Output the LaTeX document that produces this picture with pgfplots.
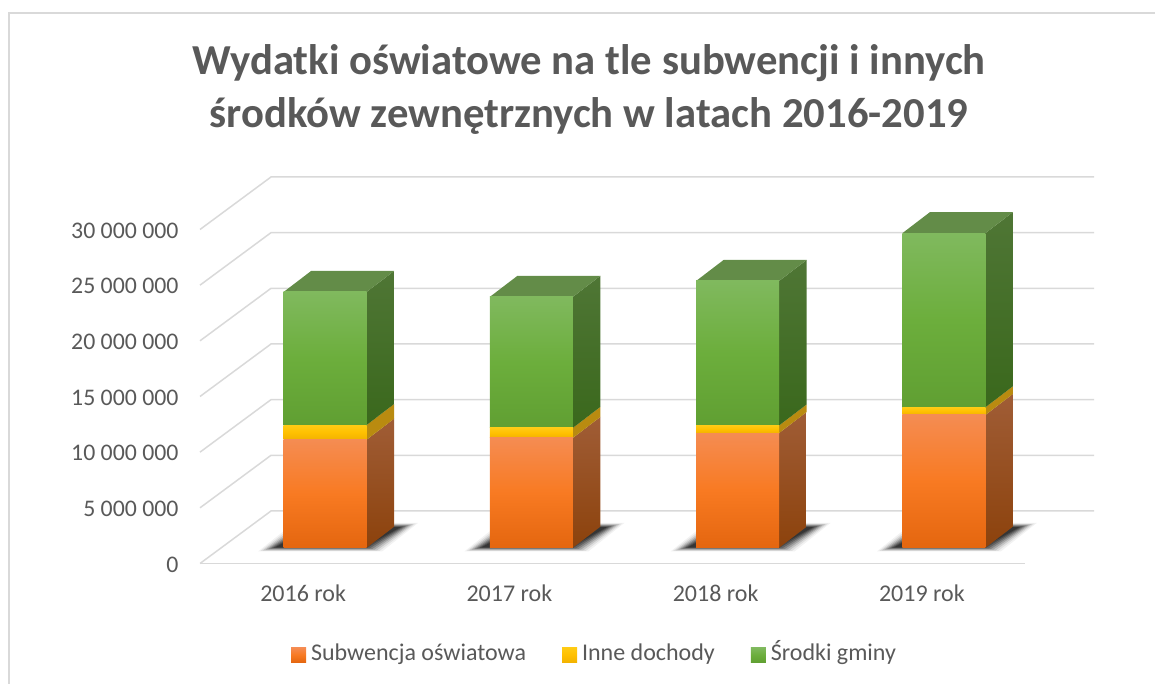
\documentclass[border=0pt]{standalone}
\usepackage{pgfplots}
\pgfplotsset{compat=1.18}
\usepackage{fontspec}
\setmainfont{Carlito}
\definecolor{txt}{HTML}{595959}
\definecolor{gridc}{HTML}{D9D9D9}
\definecolor{oT}{HTML}{F58C52}\definecolor{oM}{HTML}{F87A22}\definecolor{oB}{HTML}{E4660F}
\definecolor{yT}{HTML}{FFCB14}\definecolor{yM}{HTML}{FFC000}\definecolor{yB}{HTML}{F2B200}
\definecolor{gT}{HTML}{80B95E}\definecolor{gM}{HTML}{6CAE3C}\definecolor{gB}{HTML}{609F32}
\definecolor{osT}{HTML}{A05D36}\definecolor{osB}{HTML}{8C420C}
\definecolor{ys}{HTML}{B98B10}
\definecolor{gsT}{HTML}{4F7635}\definecolor{gsB}{HTML}{3A681C}
\definecolor{topg}{HTML}{638C48}
\tikzset{
 oFront/.style={top color=oT,bottom color=oB,middle color=oM},
 yFront/.style={top color=yT,bottom color=yB,middle color=yM},
 gFront/.style={top color=gT,bottom color=gB,middle color=gM},
 oSide/.style={top color=osT,bottom color=osB},
 ySide/.style={fill=ys},
 gSide/.style={top color=gsT,bottom color=gsB},
}
\newcommand{\shadowlayer}[3]{%
 \addplot[draw=none,fill=black,fill opacity=#3,xshift={#1*206.25pt},forget plot]
  table[row sep=\\,header=false,
   x expr={(\thisrowno{0}+\thisrowno{2}*#2*2.5-325.125)/206.25},
   y expr={(547.7-(\thisrowno{1}+\thisrowno{3}*#2*0.6))*89820}]
  {258 551.5 1 -1\\ 382 551.5 -1 -1\\ 418 523 -1 1\\ 294 523 1 1\\} --cycle;}
\pgfplotsset{
 common/.style={scale only axis,width=825pt,height=334pt,xmin=-0.5,xmax=3.5,ymin=0,ymax=30000000,clip=false},
}
% one axis per bar, so that each bar has its own gradient
\newcommand{\barstack}[4]{%
\begin{axis}[common,at={(222pt,136.3pt)},anchor=south west,hide axis,ybar stacked,bar width=83pt]
\addplot[draw=none,oFront] coordinates {(#1,#2)};
\addplot[draw=none,yFront] coordinates {(#1,#3)};
\addplot[draw=none,gFront] coordinates {(#1,#4)};
\end{axis}}
\begin{document}
\begin{tikzpicture}[x=1pt,y=1pt]
\useasboundingbox (0,0) rectangle (1155,684);
\draw[gridc,line width=1.3pt] (9,0) -- (9,671) -- (1155,671);
% ---------- walls, ticks, title, legend
\begin{axis}[common,at={(200pt,120.5pt)},anchor=south west,
 axis x line=bottom,axis y line=left,axis line style={draw=none},tick style={draw=none},
 major tick length=0pt,
 xtick={0,1,2,3},xticklabels={2016 rok,2017 rok,2018 rok,2019 rok},
 ytick={0,5000000,10000000,15000000,20000000,25000000,30000000},
 yticklabels={0,5 000 000,10 000 000,15 000 000,20 000 000,25 000 000,30 000 000},
 scaled y ticks=false,
 xticklabel style={font=\fontsize{24}{28}\selectfont,text=txt,anchor=center,yshift=-30pt},
 yticklabel style={font=\fontsize{23.8}{28}\selectfont,text=txt,anchor=east,xshift=-18pt,yshift=-1pt},
 title={Wydatki oświatowe na tle subwencji i innych\\środków zewnętrznych w latach 2016-2019},
 title style={at={(0.4715,1.4026)},anchor=center,align=center,text=txt,
   font=\fontsize{42.7}{53}\selectfont\bfseries},
 legend style={at={(0.4782,-0.274)},anchor=center,draw=none,fill=none,
   font=\fontsize{24}{28}\selectfont,text=txt,legend columns=3,
   nodes={text height=17pt,text depth=6pt},
   /tikz/every odd column/.append style={column sep=3pt},
   /tikz/every even column/.append style={column sep=34pt}},
 legend cell align=left,
 gl/.style={draw=gridc,line width=1.5pt,forget plot},
 sw/.style={legend image code/.code={\path[draw=none,##1] (0pt,-7.5pt) rectangle (15pt,7.5pt);}},
]
\addplot[gl] coordinates {(-0.5,0) (3.5,0)};
\addplot[gl] coordinates {(-0.5,0) (-0.1558,4715500) (3.8345,4715500)};
\addplot[gl] coordinates {(-0.5,5000000) (-0.1558,9715500) (3.8345,9715500)};
\addplot[gl] coordinates {(-0.5,10000000) (-0.1558,14715500) (3.8345,14715500)};
\addplot[gl] coordinates {(-0.5,15000000) (-0.1558,19715500) (3.8345,19715500)};
\addplot[gl] coordinates {(-0.5,20000000) (-0.1558,24715500) (3.8345,24715500)};
\addplot[gl] coordinates {(-0.5,25000000) (-0.1558,29715500) (3.8345,29715500)};
\addplot[gl] coordinates {(-0.5,30000000) (-0.1558,34715500) (3.8345,34715500)};
\addlegendimage{sw,oFront}\addlegendentry{Subwencja oświatowa}
\addlegendimage{sw,yFront}\addlegendentry{Inne dochody}
\addlegendimage{sw,gFront}\addlegendentry{Środki gminy}
\end{axis}
% ---------- shadows, side and top faces
\begin{axis}[common,at={(222pt,136.3pt)},anchor=south west,hide axis]
\pgfplotsinvokeforeach{0,1,2,3}{%
 \shadowlayer{#1}{0}{0.05}\shadowlayer{#1}{1}{0.08}\shadowlayer{#1}{2}{0.12}\shadowlayer{#1}{3}{0.16}\shadowlayer{#1}{4}{0.2}\shadowlayer{#1}{5}{0.24}\shadowlayer{#1}{6}{0.26}\shadowlayer{#1}{7}{0.28}}
% 2016
\addplot[draw=none,oSide] coordinates {(0.2012,0) (0.3345,1886000) (0.3345,11586000) (0.2012,9700000)} --cycle;
\addplot[draw=none,ySide] coordinates {(0.2012,9700000) (0.3345,11586000) (0.3345,12906000) (0.2012,11020000)} --cycle;
\addplot[draw=none,gSide] coordinates {(0.2012,11020000) (0.3345,12906000) (0.3345,24856000) (0.2012,22970000)} --cycle;
\addplot[draw=none,fill=topg] coordinates {(-0.2012,22970000) (-0.0679,24856000) (0.3345,24856000) (0.2012,22970000)} --cycle;
% 2017
\addplot[draw=none,oSide] coordinates {(1.2012,0) (1.3345,1886000) (1.3345,11746000) (1.2012,9860000)} --cycle;
\addplot[draw=none,ySide] coordinates {(1.2012,9860000) (1.3345,11746000) (1.3345,12646000) (1.2012,10760000)} --cycle;
\addplot[draw=none,gSide] coordinates {(1.2012,10760000) (1.3345,12646000) (1.3345,24416000) (1.2012,22530000)} --cycle;
\addplot[draw=none,fill=topg] coordinates {(0.7988,22530000) (0.9321,24416000) (1.3345,24416000) (1.2012,22530000)} --cycle;
% 2018
\addplot[draw=none,oSide] coordinates {(2.2012,0) (2.3345,1886000) (2.3345,12186000) (2.2012,10300000)} --cycle;
\addplot[draw=none,ySide] coordinates {(2.2012,10300000) (2.3345,12186000) (2.3345,12866000) (2.2012,10980000)} --cycle;
\addplot[draw=none,gSide] coordinates {(2.2012,10980000) (2.3345,12866000) (2.3345,25846000) (2.2012,23960000)} --cycle;
\addplot[draw=none,fill=topg] coordinates {(1.7988,23960000) (1.9321,25846000) (2.3345,25846000) (2.2012,23960000)} --cycle;
% 2019
\addplot[draw=none,oSide] coordinates {(3.2012,0) (3.3345,1886000) (3.3345,13806000) (3.2012,11920000)} --cycle;
\addplot[draw=none,ySide] coordinates {(3.2012,11920000) (3.3345,13806000) (3.3345,14496000) (3.2012,12610000)} --cycle;
\addplot[draw=none,gSide] coordinates {(3.2012,12610000) (3.3345,14496000) (3.3345,30136000) (3.2012,28250000)} --cycle;
\addplot[draw=none,fill=topg] coordinates {(2.7988,28250000) (2.9321,30136000) (3.3345,30136000) (3.2012,28250000)} --cycle;
\end{axis}
% ---------- front faces: the stacked values
\barstack{0}{9700000}{1320000}{11950000}
\barstack{1}{9860000}{900000}{11770000}
\barstack{2}{10300000}{680000}{12980000}
\barstack{3}{11920000}{690000}{15640000}
\end{tikzpicture}
\end{document}
